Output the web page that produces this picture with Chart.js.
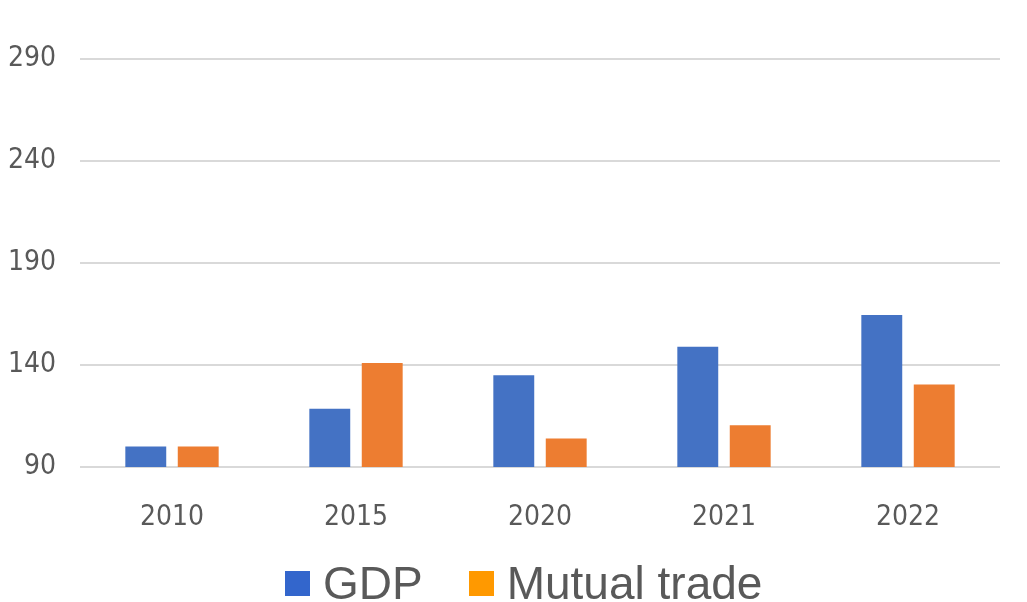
<!DOCTYPE html>
<html>
<head>
<meta charset="utf-8">
<script src="https://cdn.jsdelivr.net/npm/chart.js@4/dist/chart.umd.min.js"></script>
<style>
    html, body { margin: 0; padding: 0; background: #fff; }
    #wrap { width: 1027px; height: 602px; position: relative; }
    #legend {
        position: absolute; left: 285px; top: 556px; height: 54px;
        display: flex; align-items: center;
        font-family: "Liberation Sans", Arial, sans-serif; font-size: 46px; color: #595959;
    }
    #legend .item { display: flex; align-items: center; margin-right: 46px; }
    #legend .box { width: 25px; height: 25px; margin-right: 13px; }
</style>
</head>
<body>
<div id="wrap"><canvas id="chart"></canvas><div id="legend"></div></div>
<script>
// Données
const years = ['2010', '2015', '2020', '2021', '2022'];
const gdp = [100, 118.5, 135, 149, 164.5];
const mutualTrade = [100, 141, 104, 110.5, 130.5];
const yTicks = [90, 140, 190, 240, 290];

const seriesNames = ['GDP', 'Mutual trade'];
const barColors = ['#4472c4', '#ed7d31'];
const legendColors = ['#3366cc', '#ff9900'];

const tickFont = { family: '"Liberation Sans Narrow", "DejaVu Sans Condensed", "Liberation Sans", sans-serif', size: 28 };

new Chart(document.getElementById('chart'), {
    type: 'bar',
    data: {
        labels: years,
        datasets: [
            { label: seriesNames[0], data: gdp, backgroundColor: barColors[0] },
            { label: seriesNames[1], data: mutualTrade, backgroundColor: barColors[1] }
        ]
    },
    options: {
        responsive: true,
        maintainAspectRatio: false,
        animation: false,
        categoryPercentage: 0.57,
        barPercentage: 0.78,
        layout: { padding: { top: 59, right: 27, left: 0, bottom: 75 } },
        plugins: {
            tooltip: { enabled: false },
            legend: { display: false }
        },
        scales: {
            x: {
                grid: { display: false, drawTicks: false },
                border: { display: false },
                afterFit: (scale) => { scale.height = 60; },
                ticks: { font: tickFont, color: '#595959', padding: 34 }
            },
            y: {
                min: yTicks[0],
                max: yTicks[yTicks.length - 1],
                afterBuildTicks: (scale) => { scale.ticks = yTicks.map(v => ({ value: v })); },
                afterFit: (scale) => { scale.width = 80; },
                grid: { color: '#d9d9d9', lineWidth: 2, drawTicks: false },
                border: { display: false },
                ticks: { font: tickFont, color: '#595959', padding: 24 }
            }
        }
    }
});

// Légende personnalisée
const legend = document.getElementById('legend');
seriesNames.forEach((name, i) => {
    const item = document.createElement('div');
    item.className = 'item';
    item.innerHTML = `<span class="box" style="background:${legendColors[i]}"></span><span>${name}</span>`;
    legend.appendChild(item);
});
</script>
</body>
</html>
